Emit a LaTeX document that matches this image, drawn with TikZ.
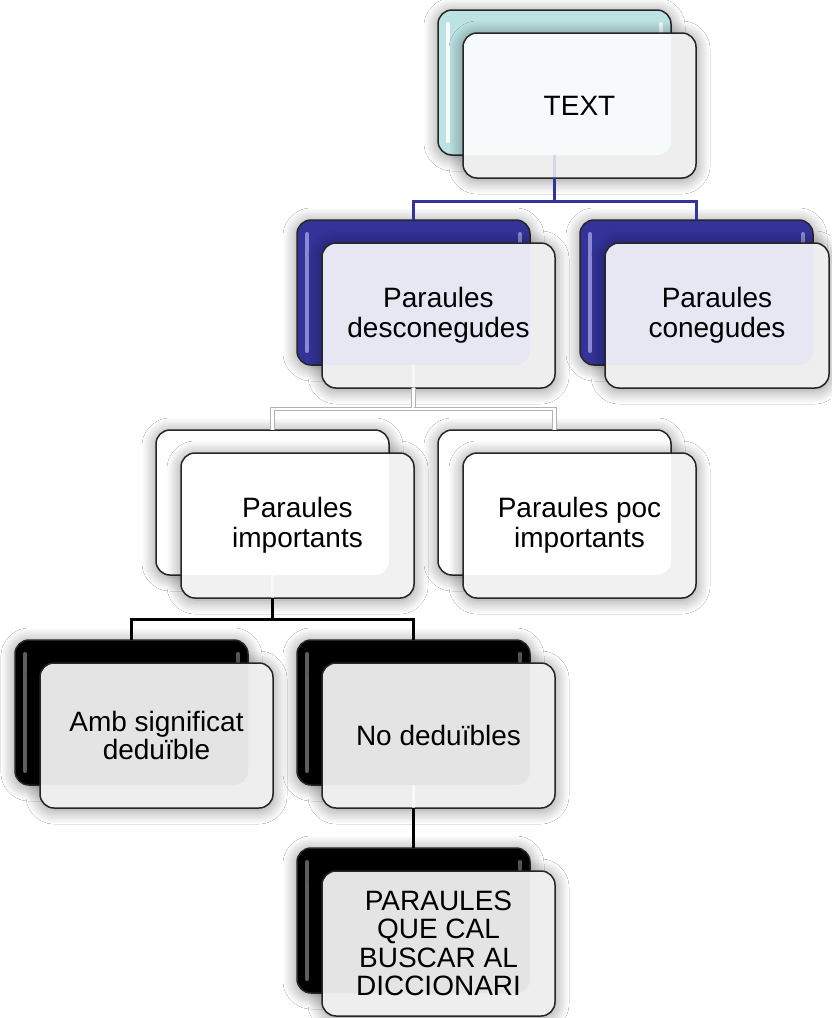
\documentclass[tikz,border=0pt]{standalone}
\usepackage{fontspec}
\setmainfont{Liberation Sans}
\usetikzlibrary{shadows,shadows.blur,calc}
\definecolor{tealback}{HTML}{BCE2E3}
\definecolor{blueback}{HTML}{333399}
\definecolor{connblue}{HTML}{333399}
\definecolor{stripeblue}{HTML}{8A8AD0}
\definecolor{stripeblack}{HTML}{5E5E5E}
\definecolor{innteal}{HTML}{F6FAFB}
\definecolor{innblue}{HTML}{E7E7F3}
\definecolor{inngray}{HTML}{E4E4E4}
\definecolor{outgray}{HTML}{EEEEEE}
\definecolor{outlight}{HTML}{F1F1F1}
\tikzset{
  box/.style={draw=black!85, line width=1.5pt, rounded corners=14pt,
    minimum height=145pt, inner sep=0pt, outer sep=0pt,
    blur shadow={shadow xshift=0pt, shadow yshift=-2pt, shadow blur radius=14pt, shadow blur steps=12, shadow opacity=45}},
  backbox/.style={box, minimum width=233pt},
  frontbox/.style={box, font=\fontsize{28}{28.5}\selectfont, align=center, text=black},
  stripe/.style={line width=4pt, line cap=round},
  bluec/.style={draw=connblue, line width=3pt},
  blackc/.style={draw=black, line width=3pt},
  whitec/.style={draw=gray!60, line width=0.8pt, double=white, double distance=2.8pt},
}
% #1 name, #2 x, #3 y, #4 back colour, #5 stripe colour, #6 inner colour, #7 outer colour, #8 text, #9 front width
\newcommand\twobox[9]{%
  \node[backbox, fill=#4, path picture={
      \draw[stripe, #5] ([shift={(10,14)}]path picture bounding box.north west) -- ([shift={(10,-14)}]path picture bounding box.south west);
      \draw[stripe, #5] ([shift={(-10,14)}]path picture bounding box.north east) -- ([shift={(-10,-14)}]path picture bounding box.south east);
    }] (#1b) at (#2+116.5,#3+72.5) {};
  \node[frontbox, minimum width=#9, fill=#7, path picture={
      \fill[#6, rounded corners=14pt] (#1b.south west) rectangle (#1b.north east);
    }] (#1) at (#2+25+#9/2,#3+23+72.5) {#8};
}
\begin{document}
\begin{tikzpicture}[x=1pt,y=-1pt]
\useasboundingbox[fill=white] (0,0) rectangle (831,1018);
\twobox{L0}{438}{10}{tealback}{white!90!tealback}{innteal}{outgray}{TEXT}{233}
\twobox{L1a}{297}{220}{blueback}{stripeblue}{innblue}{outgray}{Paraules\\[1.5pt]desconegudes}{233}
\twobox{L1b}{580}{220}{blueback}{stripeblue}{innblue}{outgray}{Paraules\\[1.5pt]conegudes}{224}
\twobox{L2a}{156}{430}{white}{white}{white}{outlight}{Paraules\\[1.5pt]importants}{233}
\twobox{L2b}{438}{430}{white}{white}{white}{outlight}{Paraules poc\\[1.5pt]importants}{233}
\twobox{L3a}{15}{640}{black}{stripeblack}{inngray}{outgray}{Amb significat\\deduïble}{233}
\twobox{L3b}{297}{640}{black}{stripeblack}{inngray}{outgray}{No deduïbles}{233}
\twobox{L4}{297}{848}{black}{stripeblack}{inngray}{outgray}{PARAULES\\QUE CAL\\BUSCAR AL\\DICCIONARI}{233}
\coordinate (bus1) at (0,201);
\coordinate (bus2) at (0,409);
\coordinate (bus3) at (0,619);
% faint parts of the connectors seen through the front boxes
\draw[bluec, opacity=0.12] (L0b.south) -- (L0b.south |- L0.south);
\draw[draw=white, line width=2.5pt, opacity=0.5] (L1ab.south) -- (L1ab.south |- L1a.south);
\draw[draw=white, line width=2.5pt, opacity=0.6] (L2ab.south) -- (L2ab.south |- L2a.south);
\draw[draw=white, line width=2.5pt, opacity=0.6] (L3bb.south) -- (L3bb.south |- L3b.south);
% connectors
\draw[bluec] (L0b.south |- L0.south) -- (L0b.south |- bus1) -| (L1ab.north);
\draw[bluec] (L0b.south |- bus1) -| (L1bb.north);
\draw[whitec] (L1ab.south |- L1a.south) -- (L1ab.south |- bus2) -| (L2ab.north);
\draw[whitec] (L1ab.south |- bus2) -| (L2bb.north);
\draw[blackc] (L2ab.south |- L2a.south) -- (L2ab.south |- bus3) -| (L3ab.north);
\draw[blackc] (L2ab.south |- bus3) -| (L3bb.north);
\draw[blackc] (L3bb.south |- L3b.south) -- (L4b.north);
\end{tikzpicture}
\end{document}
